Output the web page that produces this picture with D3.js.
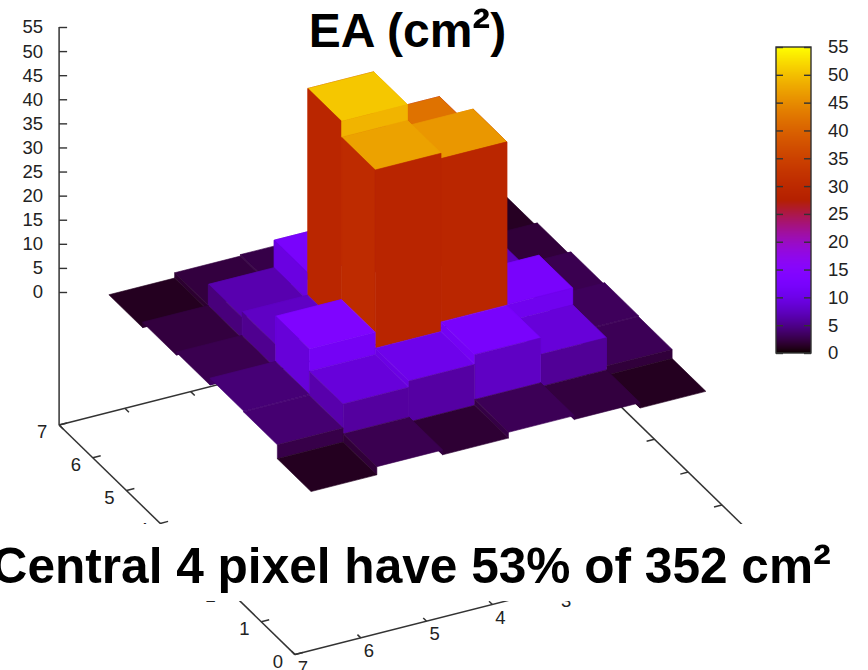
<!DOCTYPE html>
<html>
<head>
<meta charset="utf-8">
<script src="https://cdn.jsdelivr.net/npm/d3@7"></script>
<style>
body { margin: 0; background: #fff; }
svg { display: block; }
text { font-family: "Liberation Sans", Arial, sans-serif; }
</style>
</head>
<body>
<script>
//pixel centres on the two floor axes, first entry is the nearest one
var pixelX = [6, 5, 4, 3, 2, 1];
var pixelY = [1, 2, 3, 4, 5, 6];

//effective area per pixel in cm2, one list per y pixel
var eaY1 = [1.1, 2.8, 1.8, 3.0, 2.2, 1.1];
var eaY2 = [4.0, 9.0, 10.3, 12.3, 8.9, 3.0];
var eaY3 = [4.2, 13.6, 47.3, 46.2, 12.4, 3.2];
var eaY4 = [2.8, 7.7, 50.6, 42.0, 7.3, 2.8];
var eaY5 = [2.2, 6.6, 12.3, 9.0, 8.0, 2.0];
var eaY6 = [1.1, 2.2, 2.5, 3.5, 2.3, 1.2];
var eaRows = [eaY1, eaY2, eaY3, eaY4, eaY5, eaY6];

var zTicks = [0, 5, 10, 15, 20, 25, 30, 35, 40, 45, 50, 55];
var floorTicks = [0, 1, 2, 3, 4, 5, 6, 7];

var titleText = "EA (cm";
var noteText = "Central 4 pixel have 53% of 352 cm";
var superTwo = "\u00b2";

var width = 868, height = 670;
var axisColor = "#333";
var labelColor = "#222";
var labelSize = 18.5;

var svg = d3.select("body").append("svg")
    .attr("width", width)
    .attr("height", height);

//oblique view: each data axis has its own scale for screen x and screen y
var xToPx = d3.scaleLinear().domain([7, 0]).range([295, 755.6]);
var xToPy = d3.scaleLinear().domain([7, 0]).range([0, -116.9]);
var yToPx = d3.scaleLinear().domain([0, 7]).range([0, -235.9]);
var yToPy = d3.scaleLinear().domain([0, 7]).range([229.6, 0]);
var zToPy = d3.scaleLinear().domain([0, 55]).range([292, 27]);
var zFloor = zToPy.invert(425);

function project(x, y, z) {
    return [xToPx(x) + yToPx(y), zToPy(z) + xToPy(x) + yToPy(y)];
}

//gnuplot palette rgbformulae 7,5,15
var colorScale = d3.scaleLinear().domain([0, 55]).range([0, 1]).clamp(true);
function palette(z) {
    var t = colorScale(z);
    return d3.rgb(255 * Math.sqrt(t), 255 * t * t * t, 255 * Math.max(0, Math.sin(2 * Math.PI * t))).formatHex();
}

var line = d3.line();

function addLine(g, a, b) {
    g.append("path")
        .attr("d", line([a, b]))
        .attr("fill", "none")
        .attr("stroke", axisColor)
        .attr("stroke-width", 1.5);
}

//floor axes
var floor = svg.append("g");

addLine(floor, project(7, 0, zFloor), project(0, 0, zFloor));
addLine(floor, project(7, 0, zFloor), project(7, 7, zFloor));
addLine(floor, project(0, 0, zFloor), project(0, 7, zFloor));
addLine(floor, project(7, 7, zFloor), project(0, 7, zFloor));

floorTicks.forEach(function (v) {
    //x axis ticks along the front edge, and the matching ones at the back
    var p = project(v, 0, zFloor);
    addLine(floor, p, project(v, 0.1, zFloor));
    addLine(floor, project(v, 7, zFloor), project(v, 6.88, zFloor));
    floor.append("text")
        .attr("x", p[0] + 8)
        .attr("y", p[1] + 19)
        .attr("text-anchor", "middle")
        .attr("font-size", labelSize)
        .attr("fill", labelColor)
        .text(v);

    //y axis ticks on the left edge and its opposite on the right
    var q = project(7, v, zFloor);
    addLine(floor, q, project(6.88, v, zFloor));
    floor.append("text")
        .attr("x", q[0] - 17)
        .attr("y", q[1] + 13)
        .attr("text-anchor", "middle")
        .attr("font-size", labelSize)
        .attr("fill", labelColor)
        .text(v);

    var r = project(0, v, zFloor);
    addLine(floor, r, project(0.12, v, zFloor));
});

//z axis
svg.append("g")
    .attr("transform", "translate(" + project(7, 7, 0)[0] + ",0)")
    .call(d3.axisLeft(zToPy).tickValues(zTicks).tickSize(-8).tickSizeOuter(0).tickPadding(16))
    .call(function (g) {
        g.select(".domain").remove();
        g.selectAll("line").attr("stroke", axisColor).attr("stroke-width", 1.4);
        g.selectAll("text").attr("font-size", labelSize).attr("font-family", null).attr("fill", labelColor);
    });
addLine(svg, project(7, 7, 55), project(7, 7, zFloor));

//surface, far cells first
function quad(points, z) {
    var c = palette(z);
    surface.append("path")
        .attr("d", line(points) + "Z")
        .attr("fill", c)
        .attr("stroke", c)
        .attr("stroke-width", 0.6)
        .attr("stroke-linejoin", "round");
}

var surface = svg.append("g");

for (var j = pixelY.length - 1; j >= 0; j--) {
    for (var i = pixelX.length - 1; i >= 0; i--) {
        var z = eaRows[j][i];
        var xa = pixelX[i] + 0.5, xb = pixelX[i] - 0.5;
        var ya = pixelY[j] - 0.5, yb = pixelY[j] + 0.5;

        //top of the cell
        quad([project(xa, ya, z), project(xb, ya, z), project(xb, yb, z), project(xa, yb, z)], z);

        //wall towards the next cell along x
        if (i > 0) {
            var zi = eaRows[j][i - 1];
            quad([project(xa, ya, z), project(xa, yb, z), project(xa, yb, zi), project(xa, ya, zi)], (z + zi) / 2);
        }
        //wall towards the next cell along y
        if (j > 0) {
            var zj = eaRows[j - 1][i];
            quad([project(xa, ya, z), project(xb, ya, z), project(xb, ya, zj), project(xa, ya, zj)], (z + zj) / 2);
        }
    }
}

//colour box, one strip per screen pixel
var cbLeft = 776, cbRight = 811;
var cbY = d3.scaleLinear().domain([0, 55]).range([353, 47]);
var cbSteps = d3.range(47, 353);

svg.append("g").selectAll("rect")
    .data(cbSteps)
    .enter().append("rect")
    .attr("x", cbLeft)
    .attr("width", cbRight - cbLeft)
    .attr("y", function (d) { return d; })
    .attr("height", 1)
    .attr("shape-rendering", "crispEdges")
    .attr("fill", function (d) { return palette(cbY.invert(d + 0.5)); });

svg.append("rect")
    .attr("x", cbLeft)
    .attr("y", cbY(55))
    .attr("width", cbRight - cbLeft)
    .attr("height", cbY(0) - cbY(55))
    .attr("fill", "none")
    .attr("stroke", axisColor)
    .attr("stroke-width", 1.4);

svg.append("g")
    .attr("transform", "translate(" + cbRight + ",0)")
    .call(d3.axisRight(cbY).tickValues(zTicks).tickSize(-7).tickSizeOuter(0).tickPadding(17))
    .call(function (g) {
        g.select(".domain").remove();
        g.selectAll("line").attr("stroke", axisColor).attr("stroke-width", 1.4);
        g.selectAll("text").attr("font-size", labelSize).attr("font-family", null).attr("fill", labelColor);
    });

svg.append("g")
    .attr("transform", "translate(" + cbLeft + ",0)")
    .call(d3.axisLeft(cbY).tickValues(zTicks).tickSize(-7).tickSizeOuter(0).tickFormat(""))
    .call(function (g) {
        g.select(".domain").remove();
        g.selectAll("line").attr("stroke", axisColor).attr("stroke-width", 1.4);
    });

//white band pasted over the plot, note goes on top of it
svg.append("rect")
    .attr("x", 0)
    .attr("y", 524)
    .attr("width", width)
    .attr("height", 77)
    .attr("fill", "#fff");

var title = svg.append("text")
    .attr("x", 407.5)
    .attr("y", 47)
    .attr("text-anchor", "middle")
    .attr("font-size", 48)
    .attr("font-weight", "bold")
    .attr("fill", "#000")
    .text(titleText);
title.append("tspan").attr("font-size", 54).text(superTwo);
title.append("tspan").text(")");

var note = svg.append("text")
    .attr("x", 831)
    .attr("y", 583)
    .attr("text-anchor", "end")
    .attr("font-size", 49.6)
    .attr("font-weight", "bold")
    .attr("fill", "#000")
    .text(noteText);
note.append("tspan").attr("font-size", 54).text(superTwo);
</script>
</body>
</html>
